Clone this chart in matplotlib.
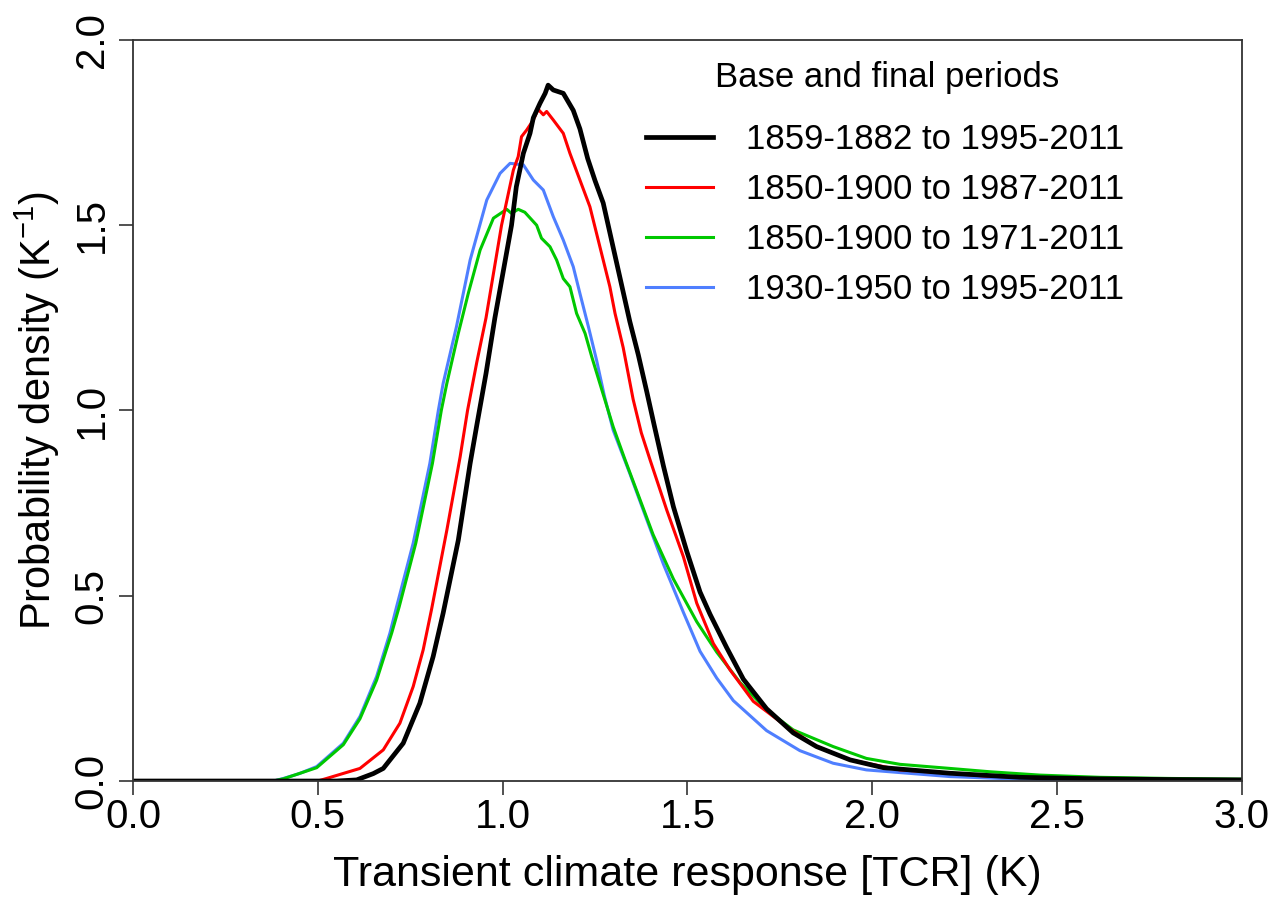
import matplotlib
matplotlib.use("Agg")
import matplotlib.pyplot as plt

plt.rcParams["font.family"] = ["Liberation Sans", "DejaVu Sans"]
plt.rcParams["mathtext.fontset"] = "custom"
plt.rcParams["mathtext.rm"] = "Liberation Sans"
plt.rcParams["mathtext.it"] = "Liberation Sans"

# values (TCR in K, density in 1/K)
black_x = [0.0, 0.55, 0.605, 0.65, 0.677, 0.731, 0.776, 0.812, 0.839, 0.880, 0.912, 0.93, 0.955,
           0.979, 1.024, 1.037, 1.056, 1.074, 1.083, 1.101, 1.115, 1.123, 1.137, 1.164, 1.191, 1.209,
           1.23, 1.25, 1.272, 1.29, 1.308, 1.326, 1.344, 1.367, 1.39, 1.41, 1.435, 1.462, 1.498,
           1.534, 1.561, 1.606, 1.651, 1.714, 1.786, 1.849, 1.94, 2.03, 2.21, 2.4, 2.6, 2.8, 3.0]
black_y = [0.0, 0.0, 0.003, 0.02, 0.034, 0.102, 0.21, 0.336, 0.453, 0.65, 0.857, 0.96, 1.10,
           1.25, 1.5, 1.604, 1.694, 1.748, 1.79, 1.829, 1.856, 1.878, 1.865, 1.856, 1.81, 1.76,
           1.68, 1.62, 1.56, 1.48, 1.40, 1.32, 1.24, 1.15, 1.05, 0.96, 0.85, 0.74, 0.62,
           0.51, 0.45, 0.36, 0.275, 0.195, 0.13, 0.093, 0.057, 0.036, 0.021, 0.01, 0.006, 0.004, 0.003]

red_x = [0.0, 0.5, 0.524, 0.614, 0.677, 0.722, 0.758, 0.785, 0.808, 0.849, 0.885, 0.905, 0.93,
         0.955, 0.997, 1.029, 1.042, 1.051, 1.065, 1.083, 1.096, 1.11, 1.119, 1.137, 1.164, 1.182,
         1.209, 1.236, 1.254, 1.272, 1.29, 1.304, 1.326, 1.353, 1.375, 1.399, 1.444, 1.489, 1.525,
         1.57, 1.615, 1.678, 1.768, 1.849, 1.94, 2.075, 2.21, 2.31, 2.5, 2.8, 3.0]
red_y = [0.0, 0.0, 0.007, 0.034, 0.084, 0.156, 0.255, 0.354, 0.465, 0.677, 0.875, 1.0, 1.13,
         1.25, 1.5, 1.649, 1.685, 1.739, 1.757, 1.784, 1.813, 1.798, 1.807, 1.784, 1.748, 1.694,
         1.622, 1.55, 1.478, 1.406, 1.334, 1.262, 1.17, 1.03, 0.94, 0.866, 0.731, 0.605, 0.48,
         0.371, 0.30, 0.215, 0.147, 0.093, 0.057, 0.03, 0.021, 0.013, 0.008, 0.004, 0.003]

green_x = [0.0, 0.38, 0.407, 0.497, 0.569, 0.614, 0.659, 0.70, 0.72, 0.765, 0.81, 0.834, 0.849,
           0.88, 0.907, 0.939, 0.975, 1.011, 1.024, 1.042, 1.06, 1.092, 1.105, 1.128, 1.146, 1.164,
           1.182, 1.2, 1.223, 1.241, 1.27, 1.299, 1.33, 1.362, 1.407, 1.462, 1.525, 1.579, 1.642,
           1.714, 1.786, 1.894, 1.984, 2.075, 2.21, 2.318, 2.453, 2.616, 2.8, 3.0]
green_y = [0.0, 0.0, 0.006, 0.036, 0.098, 0.168, 0.272, 0.40, 0.47, 0.642, 0.857, 1.0, 1.073,
           1.208, 1.316, 1.433, 1.519, 1.543, 1.532, 1.543, 1.535, 1.50, 1.465, 1.442, 1.406, 1.356,
           1.334, 1.262, 1.208, 1.145, 1.05, 0.956, 0.87, 0.785, 0.665, 0.545, 0.43, 0.348, 0.266,
           0.192, 0.138, 0.093, 0.061, 0.045, 0.034, 0.025, 0.016, 0.01, 0.007, 0.005]

blue_x = [0.0, 0.38, 0.407, 0.45, 0.497, 0.569, 0.614, 0.659, 0.695, 0.713, 0.758, 0.803, 0.826,
          0.839, 0.875, 0.912, 0.957, 0.993, 1.02, 1.056, 1.083, 1.11, 1.137, 1.164, 1.191, 1.209,
          1.232, 1.254, 1.275, 1.299, 1.344, 1.39, 1.435, 1.489, 1.534, 1.579, 1.624, 1.714, 1.804,
          1.894, 1.984, 2.21, 2.4, 2.6, 3.0]
blue_y = [0.0, 0.0, 0.007, 0.02, 0.039, 0.102, 0.174, 0.282, 0.399, 0.47, 0.642, 0.857, 1.0,
          1.073, 1.226, 1.406, 1.568, 1.64, 1.667, 1.663, 1.622, 1.595, 1.523, 1.46, 1.388, 1.316,
          1.226, 1.136, 1.04, 0.947, 0.83, 0.705, 0.585, 0.455, 0.35, 0.278, 0.217, 0.136, 0.082,
          0.048, 0.03, 0.012, 0.005, 0.003, 0.002]

labels = ["1859-1882 to 1995-2011", "1850-1900 to 1987-2011",
          "1850-1900 to 1971-2011", "1930-1950 to 1995-2011"]
colors = ["black", "#ff0000", "#00c800", "#4f7fff"]
widths = [3.4, 2.2, 2.2, 2.2]

series = [(black_x, black_y), (red_x, red_y), (green_x, green_y), (blue_x, blue_y)]

fig = plt.figure(figsize=(12.8, 9), dpi=100)
ax = fig.add_axes([0.1039, 0.1322, 0.8664, 0.8234])

# draw in reverse so black ends up on top like the original
for (xs, ys), lab, col, lw in list(zip(series, labels, colors, widths))[::-1]:
    ax.plot(xs, ys, color=col, lw=lw, label=lab)

ax.set_xlim(0, 3.0)
ax.set_ylim(0, 2.0)
ax.set_xticks([0, 0.5, 1.0, 1.5, 2.0, 2.5, 3.0])
ax.set_yticks([0, 0.5, 1.0, 1.5, 2.0])
ax.set_xticklabels([f"{v:.1f}" for v in ax.get_xticks()])
ax.set_yticklabels([f"{v:.1f}" for v in ax.get_yticks()], rotation=90, va="center")
ax.tick_params(axis="both", labelsize=29, length=10, width=1.2, color="#333333")
ax.tick_params(axis="x", pad=2)
ax.tick_params(axis="y", pad=6)
for s in ax.spines.values():
    s.set_color("#333333")
    s.set_linewidth(1.3)

ax.set_xlabel("Transient climate response [TCR] (K)", fontsize=31, labelpad=14)
ax.set_ylabel(r"Probability density (K$^{-1}$)", fontsize=30, labelpad=8)

handles, labs = ax.get_legend_handles_labels()
leg = ax.legend(handles[::-1], labs[::-1], fontsize=25, frameon=False, loc="upper right",
                bbox_to_anchor=(1124 / 1280, 1 - 123 / 900), bbox_transform=fig.transFigure,
                borderpad=0, borderaxespad=0, handlelength=1.93, handletextpad=0.95,
                labelspacing=0.49)
fig.text(887 / 1280, 1 - 77 / 900, "Base and final periods", fontsize=25,
         ha="center", va="center")

fig.savefig("out.png", dpi=100)
